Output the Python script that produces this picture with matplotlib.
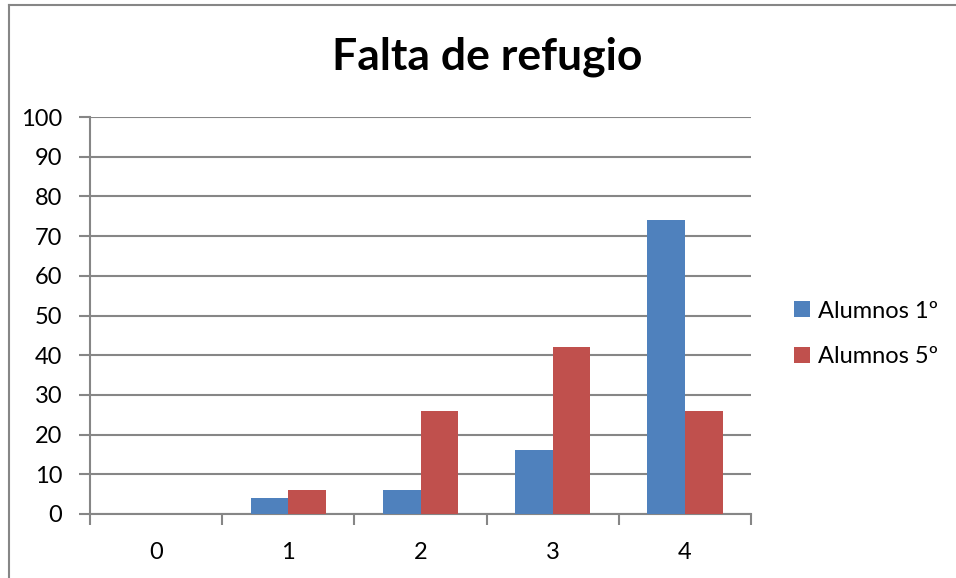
import matplotlib.pyplot as plt
import numpy as np

categories = ["0", "1", "2", "3", "4"]
alumnos_1 = [0, 4, 6, 16, 74]
alumnos_5 = [0, 6, 26, 42, 26]
series_names = ["Alumnos 1º", "Alumnos 5º"]
colors = ["#4F81BD", "#C0504D"]

plt.rcParams['font.family'] = ['Lato', 'DejaVu Sans']

W, H = 956, 578
fig = plt.figure(figsize=(W / 100, H / 100), dpi=100)
fig.patch.set_facecolor("white")

# outer chart border (only left/top visible in the crop)
fig.add_artist(plt.Line2D([8.5 / W, 8.5 / W], [0, 1 - 5 / H], color="#868686", lw=1.5))
fig.add_artist(plt.Line2D([8.5 / W, 1], [1 - 5 / H, 1 - 5 / H], color="#868686", lw=1.5))

left, right, top, bottom = 90, 751, 117, 514
ax = fig.add_axes([left / W, 1 - bottom / H, (right - left) / W, (bottom - top) / H])

x = np.arange(len(categories))
bw = 1 / 3.5
ax.bar(x - bw / 2, alumnos_1, bw, color=colors[0], label=series_names[0], zorder=3)
ax.bar(x + bw / 2, alumnos_5, bw, color=colors[1], label=series_names[1], zorder=3)

ax.set_xlim(-0.5, len(categories) - 0.5)
ax.set_ylim(0, 100)
ax.set_yticks(range(0, 101, 10))
ax.yaxis.grid(True, color="#868686", lw=1.5, zorder=0)
ax.set_axisbelow(True)

for s in ["top", "right"]:
    ax.spines[s].set_visible(False)
for s in ["left", "bottom"]:
    ax.spines[s].set_color("#868686")
    ax.spines[s].set_linewidth(1.5)

ax.set_xticks(np.arange(-0.5, len(categories), 1))
ax.set_xticklabels([])
ax.set_xticks(x, minor=True)
ax.set_xticklabels(categories, minor=True)
ax.tick_params(axis="x", which="major", length=8, width=1.5, color="#868686")
ax.tick_params(axis="x", which="minor", length=0, pad=20, labelsize=17)
ax.tick_params(axis="y", length=8, width=1.5, color="#868686", pad=12, labelsize=17)

fig.text(487 / W, 1 - 57 / H, "Falta de refugio", ha="center", va="center",
         fontsize=32, fontweight="bold")

leg = fig.legend(loc="center left", bbox_to_anchor=(773 / W, 1 - 334 / H),
                 frameon=False, fontsize=17, handlelength=0.65, handleheight=0.65,
                 handletextpad=0.35, labelspacing=1.05)

fig.savefig("out.png", dpi=100)
